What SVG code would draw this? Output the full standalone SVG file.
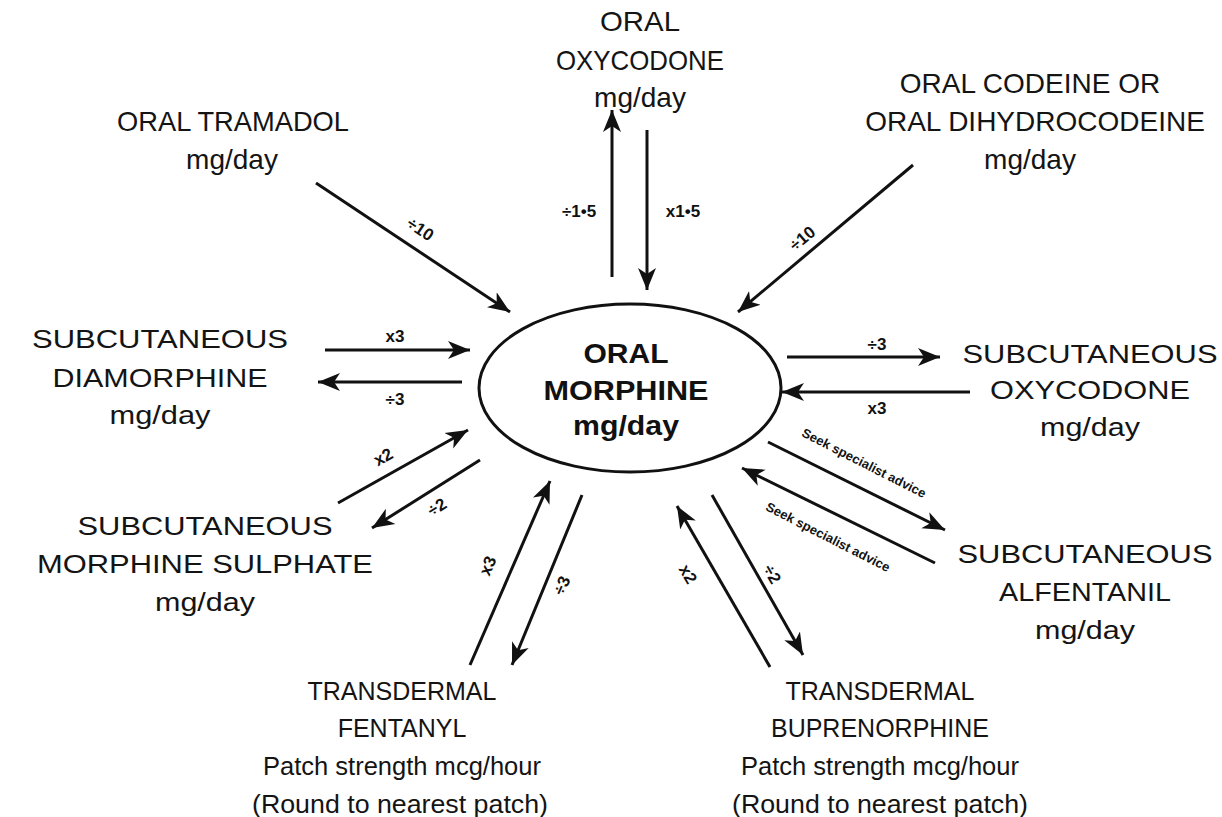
<svg xmlns="http://www.w3.org/2000/svg" width="1222" height="817" viewBox="0 0 1222 817">
<defs>
<style>
.t{font-family:"Liberation Sans",Arial,sans-serif;font-size:25px;fill:#141414;text-anchor:middle}
.n{font-family:"Liberation Sans",Arial,sans-serif;font-size:28px;fill:#141414;text-anchor:middle}
.c{font-family:"Liberation Sans",Arial,sans-serif;font-size:27px;font-weight:bold;fill:#111;text-anchor:middle}
.l{font-family:"Liberation Sans",Arial,sans-serif;font-size:17px;font-weight:bold;fill:#111;text-anchor:middle}
.s{font-family:"Liberation Sans",Arial,sans-serif;font-size:13px;font-weight:bold;fill:#111;text-anchor:middle}
.a{stroke:#111;stroke-width:3;fill:none;marker-end:url(#ah)}
</style>
<marker id="ah" markerUnits="userSpaceOnUse" markerWidth="24" markerHeight="20" viewBox="0 0 24 20" refX="22" refY="10" orient="auto">
<path d="M0,1 L22,10 L0,19 L6,10 z" fill="#111"/>
</marker>
</defs>
<rect width="1222" height="817" fill="#fff"/>
<g id="center">
<ellipse cx="630" cy="388" rx="151" ry="84" fill="none" stroke="#111" stroke-width="3"/>
<text class="c" x="626" y="363" textLength="85" lengthAdjust="spacingAndGlyphs">ORAL</text>
<text class="c" x="626" y="400" textLength="165" lengthAdjust="spacingAndGlyphs">MORPHINE</text>
<text class="c" x="626" y="435" textLength="106" lengthAdjust="spacingAndGlyphs">mg/day</text>
</g>
<g id="oral-oxycodone">
<text class="n" x="640" y="31" textLength="80" lengthAdjust="spacingAndGlyphs">ORAL</text>
<text class="n" x="640" y="70" textLength="168" lengthAdjust="spacingAndGlyphs">OXYCODONE</text>
<text class="n" x="640" y="107">mg/day</text>
</g>
<g id="oral-tramadol">
<text class="n" x="233" y="131" textLength="232" lengthAdjust="spacingAndGlyphs">ORAL TRAMADOL</text>
<text class="n" x="232" y="169">mg/day</text>
</g>
<g id="oral-codeine">
<text class="n" x="1030" y="93">ORAL CODEINE OR</text>
<text class="n" x="1035" y="131">ORAL DIHYDROCODEINE</text>
<text class="n" x="1030" y="169">mg/day</text>
</g>
<g id="sc-diamorphine">
<text class="t" x="160" y="348" textLength="256" lengthAdjust="spacingAndGlyphs">SUBCUTANEOUS</text>
<text class="t" x="160" y="387" textLength="215" lengthAdjust="spacingAndGlyphs">DIAMORPHINE</text>
<text class="t" x="160" y="424" textLength="101" lengthAdjust="spacingAndGlyphs">mg/day</text>
</g>
<g id="sc-oxycodone">
<text class="t" x="1090" y="363" textLength="255" lengthAdjust="spacingAndGlyphs">SUBCUTANEOUS</text>
<text class="t" x="1090" y="399" textLength="200" lengthAdjust="spacingAndGlyphs">OXYCODONE</text>
<text class="t" x="1090" y="436" textLength="100" lengthAdjust="spacingAndGlyphs">mg/day</text>
</g>
<g id="sc-morphine">
<text class="t" x="205" y="535" textLength="255" lengthAdjust="spacingAndGlyphs">SUBCUTANEOUS</text>
<text class="t" x="205" y="573" textLength="336" lengthAdjust="spacingAndGlyphs">MORPHINE SULPHATE</text>
<text class="t" x="205" y="611" textLength="100" lengthAdjust="spacingAndGlyphs">mg/day</text>
</g>
<g id="sc-alfentanil">
<text class="t" x="1085" y="563" textLength="255" lengthAdjust="spacingAndGlyphs">SUBCUTANEOUS</text>
<text class="t" x="1085" y="601" textLength="172" lengthAdjust="spacingAndGlyphs">ALFENTANIL</text>
<text class="t" x="1085" y="639" textLength="100" lengthAdjust="spacingAndGlyphs">mg/day</text>
</g>
<g id="td-fentanyl">
<text class="t" x="402" y="700">TRANSDERMAL</text>
<text class="t" x="402" y="737">FENTANYL</text>
<text class="t" x="402" y="775" textLength="278" lengthAdjust="spacingAndGlyphs">Patch strength mcg/hour</text>
<text class="t" x="400" y="813" textLength="296" lengthAdjust="spacingAndGlyphs">(Round to nearest patch)</text>
</g>
<g id="td-buprenorphine">
<text class="t" x="880" y="700">TRANSDERMAL</text>
<text class="t" x="880" y="737">BUPRENORPHINE</text>
<text class="t" x="880" y="775" textLength="278" lengthAdjust="spacingAndGlyphs">Patch strength mcg/hour</text>
<text class="t" x="880" y="813" textLength="296" lengthAdjust="spacingAndGlyphs">(Round to nearest patch)</text>
</g>
<g id="connectors">
<line class="a" x1="316" y1="183" x2="510" y2="312"/>
<line class="a" x1="612" y1="277" x2="612" y2="110"/>
<line class="a" x1="647" y1="130" x2="647" y2="290"/>
<line class="a" x1="913" y1="165" x2="738" y2="312"/>
<line class="a" x1="325" y1="350" x2="470" y2="350"/>
<line class="a" x1="462" y1="382" x2="318" y2="382"/>
<line class="a" x1="787" y1="357" x2="940" y2="357"/>
<line class="a" x1="970" y1="392" x2="782" y2="392"/>
<line class="a" x1="338" y1="503" x2="468" y2="430"/>
<line class="a" x1="480" y1="460" x2="372" y2="528"/>
<line class="a" x1="470" y1="665" x2="550" y2="481"/>
<line class="a" x1="582" y1="495" x2="512" y2="665"/>
<line class="a" x1="770" y1="667" x2="677" y2="506"/>
<line class="a" x1="712" y1="495" x2="803" y2="655"/>
<line class="a" x1="768" y1="442" x2="945" y2="530"/>
<line class="a" x1="935" y1="563" x2="742" y2="468"/>
<text class="l" transform="translate(417,234) rotate(33.6)">÷10</text>
<text class="l" transform="translate(806,243) rotate(-40)">÷10</text>
<text class="l" x="579" y="217">÷1•5</text>
<text class="l" x="683" y="217">x1•5</text>
<text class="l" x="395" y="342">x3</text>
<text class="l" x="395" y="405">÷3</text>
<text class="l" x="877" y="350">÷3</text>
<text class="l" x="877" y="414">x3</text>
<text class="l" transform="translate(386,462) rotate(-29)">x2</text>
<text class="l" transform="translate(440,512) rotate(-32)">÷2</text>
<text class="l" transform="translate(493,568) rotate(-66)">x3</text>
<text class="l" transform="translate(567,588) rotate(-66)">÷3</text>
<text class="l" transform="translate(683,577) rotate(60)">x2</text>
<text class="l" transform="translate(767,577) rotate(60)">÷2</text>
<text class="s" transform="translate(862,467) rotate(27)">Seek specialist advice</text>
<text class="s" transform="translate(826,541) rotate(27)">Seek specialist advice</text>
</g>
</svg>
